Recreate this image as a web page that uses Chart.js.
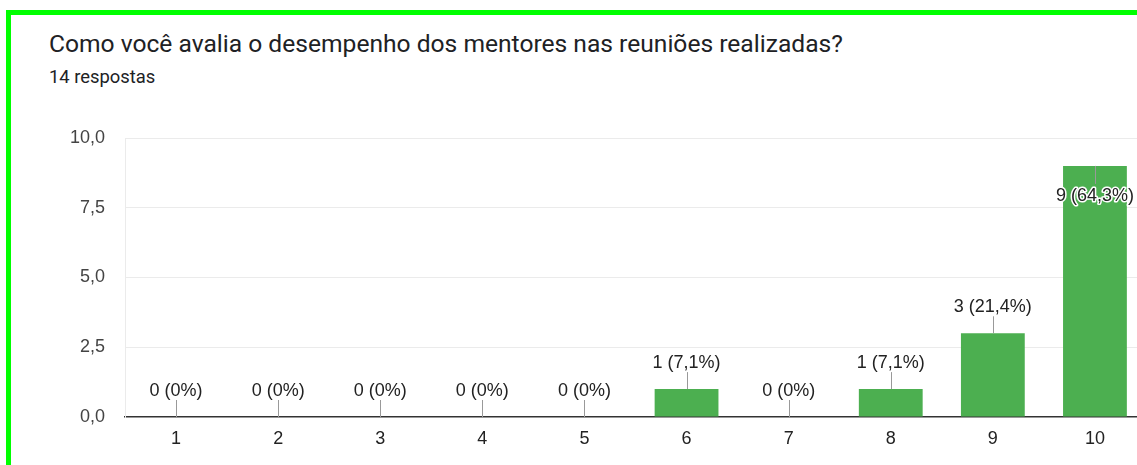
<!DOCTYPE html>
<html>
<head>
<meta charset="utf-8">
<script src="https://cdn.jsdelivr.net/npm/chart.js@4"></script>
<style>
  html, body { margin: 0; padding: 0; background: #fff; overflow: hidden; }
  body { width: 1137px; height: 465px; position: relative; }
  .frame { position: absolute; left: 6px; top: 10px; width: 1200px; height: 600px;
           border-left: 5px solid #00ff00; border-top: 5px solid #00ff00; }
  .title { position: absolute; left: 49px; top: 32px; font: 24.6px Roboto, sans-serif;
           line-height: 1; color: #202124; white-space: nowrap; }
  .sub { position: absolute; left: 49px; top: 68px; font: 18.4px Roboto, sans-serif;
         line-height: 1; color: #202124; white-space: nowrap; }
  .chart-box { position: absolute; left: 0; top: 0; width: 1146px; height: 465px; }
</style>
</head>
<body>
<div class="frame"></div>
<div class="title">Como você avalia o desempenho dos mentores nas reuniões realizadas?</div>
<div class="sub">14 respostas</div>
<div class="chart-box"><canvas id="chart"></canvas></div>
<script>
const categories = ['1', '2', '3', '4', '5', '6', '7', '8', '9', '10'];
const counts = [0, 0, 0, 0, 0, 1, 0, 1, 3, 9];
const percentLabels = ['0%', '0%', '0%', '0%', '0%', '7,1%', '0%', '7,1%', '21,4%', '64,3%'];
const yTicks = [0, 2.5, 5, 7.5, 10];

const labelFont = '18px "Liberation Sans", Arial, sans-serif';

// draws "n (p%)" labels with the little stem line, like google forms
const barLabels = {
  id: 'barLabels',
  afterDatasetsDraw(chart) {
    const ctx = chart.ctx;
    const area = chart.chartArea;
    const bars = chart.getDatasetMeta(0).data;
    ctx.save();
    ctx.font = labelFont;
    ctx.textAlign = 'center';
    ctx.textBaseline = 'middle';
    bars.forEach((bar, i) => {
      const text = counts[i] + ' (' + percentLabels[i] + ')';
      const top = bar.y;
      const inside = top - 40 < area.top;
      let stemEnd, textY;
      if (inside) {
        stemEnd = top + 18;
        textY = top + 30;
      } else {
        stemEnd = top - 17;
        textY = top - 26;
      }
      ctx.strokeStyle = '#999';
      ctx.lineWidth = 1;
      ctx.beginPath();
      ctx.moveTo(Math.round(bar.x) + 0.5, top);
      ctx.lineTo(Math.round(bar.x) + 0.5, stemEnd);
      ctx.stroke();
      if (inside) {
        ctx.strokeStyle = '#fff';
        ctx.lineWidth = 3;
        ctx.lineJoin = 'round';
        ctx.strokeText(text, bar.x, textY);
      }
      ctx.fillStyle = '#222';
      ctx.fillText(text, bar.x, textY);
    });
    ctx.restore();
  }
};

new Chart(document.getElementById('chart'), {
  type: 'bar',
  data: {
    labels: categories,
    datasets: [{
      data: counts,
      backgroundColor: '#4caf50',
      borderWidth: 0,
      barPercentage: 1,
      categoryPercentage: 0.625
    }]
  },
  options: {
    responsive: true,
    maintainAspectRatio: false,
    animation: false,
    layout: { padding: { top: 138, left: 0, right: 0, bottom: 0 } },
    plugins: {
      legend: { display: false },
      tooltip: { enabled: false }
    },
    scales: {
      x: {
        grid: { display: false, drawTicks: false },
        border: { display: true, color: '#333', width: 1.5 },
        ticks: { color: '#222', font: { family: '"Liberation Sans", Arial', size: 18 }, padding: 11 },
        afterFit: (s) => { s.height = 48; }
      },
      y: {
        min: 0,
        max: 10,
        afterBuildTicks: (s) => { s.ticks = yTicks.map(v => ({ value: v })); },
        grid: {
          drawTicks: false,
          color: (c) => c.tick && c.tick.value === 0 ? 'rgba(0,0,0,0)' : '#ebebeb'
        },
        border: { display: true, color: '#ebebeb' },
        ticks: {
          color: '#444',
          font: { family: '"Liberation Sans", Arial', size: 18 },
          padding: 20,
          callback: (v) => v.toFixed(1).replace('.', ',')
        },
        afterFit: (s) => { s.width = 125; }
      }
    }
  },
  plugins: [barLabels]
});
</script>
</body>
</html>
